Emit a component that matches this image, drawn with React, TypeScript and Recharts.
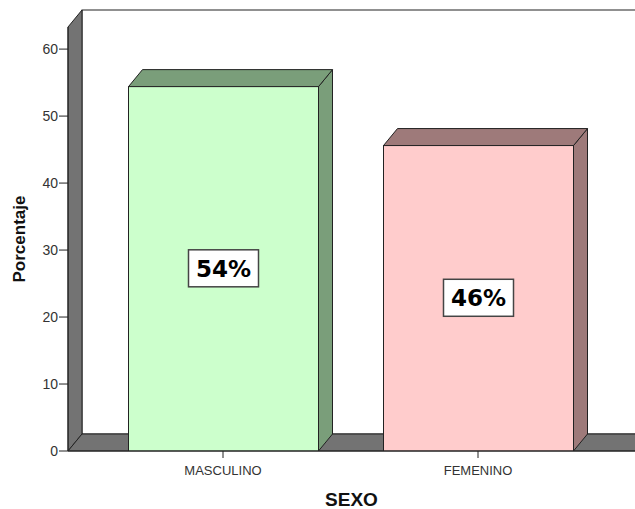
import { BarChart, Bar, XAxis, YAxis, Cell, LabelList, ReferenceArea } from "recharts";

const categories = ["MASCULINO", "FEMENINO"];
const percentages = [54.4, 45.6];
const percentLabels = ["54%", "46%"];
const yTicks = [0, 10, 20, 30, 40, 50, 60];
const Y_MAX = 63.3;

const frontColors = ["#ccffcc", "#ffcccc"];
const sideColors = ["#7a9e7a", "#9e7a7a"];

const DX = 14;
const DY = 17;
const EDGE = "#222222";
const WALL = "#737373";

const data = categories.map((name, i) => ({
  name,
  value: percentages[i],
  label: percentLabels[i],
  side: sideColors[i],
}));

function Box3D(props: any) {
  const { x, y, width: w, height: h, fill, payload } = props;
  const side = payload?.side ?? "#888";
  return (
    <g>
      <polygon
        points={`${x + w},${y} ${x + w + DX},${y - DY} ${x + w + DX},${y + h - DY} ${x + w},${y + h}`}
        fill={side}
        stroke={EDGE}
        strokeWidth={1}
      />
      <polygon
        points={`${x},${y} ${x + DX},${y - DY} ${x + w + DX},${y - DY} ${x + w},${y}`}
        fill={side}
        stroke={EDGE}
        strokeWidth={1}
      />
      <rect x={x} y={y} width={w} height={h} fill={fill} stroke={EDGE} strokeWidth={1} />
    </g>
  );
}

function Walls(props: any) {
  const { x, y, width, height } = props;
  const x0 = x;
  const x1 = x + width;
  const yTop = y;
  const yBot = y + height;
  return (
    <g>
      <rect x={x0 + DX} y={yTop - DY} width={width + 20} height={height} fill="#ffffff" stroke={EDGE} strokeWidth={1} />
      <polygon
        points={`${x0},${yTop} ${x0 + DX},${yTop - DY} ${x0 + DX},${yBot - DY} ${x0},${yBot}`}
        fill={WALL}
        stroke={EDGE}
        strokeWidth={1}
      />
      <polygon
        points={`${x0},${yBot} ${x0 + DX},${yBot - DY} ${x1 + DX},${yBot - DY} ${x1},${yBot}`}
        fill={WALL}
        stroke={EDGE}
        strokeWidth={1}
      />
    </g>
  );
}

function PercentBox(props: any) {
  const { x, y, width, height, value } = props;
  const cx = x + width / 2;
  const cy = y + height / 2;
  return (
    <g>
      <rect x={cx - 35} y={cy - 19} width={70} height={37} fill="#ffffff" stroke="#444444" strokeWidth={1.5} />
      <text
        x={cx}
        y={cy + 8}
        textAnchor="middle"
        fontFamily="'DejaVu Sans', Verdana, sans-serif"
        fontWeight="bold"
        fontSize={23}
        fill="#000000"
      >
        {value}
      </text>
    </g>
  );
}

function YTitle(props: any) {
  const { viewBox } = props;
  const cx = viewBox.x + 19;
  const cy = viewBox.y + viewBox.height / 2;
  return (
    <text
      x={cx}
      y={cy}
      transform={`rotate(-90, ${cx}, ${cy})`}
      textAnchor="middle"
      dominantBaseline="central"
      fontFamily="'Liberation Sans', Arial, sans-serif"
      fontWeight="bold"
      fontSize={17}
      fill="#111111"
    >
      Porcentaje
    </text>
  );
}

function XTitle(props: any) {
  const { viewBox } = props;
  return (
    <text
      x={viewBox.x + viewBox.width / 2}
      y={506}
      textAnchor="middle"
      fontFamily="'Liberation Sans', Arial, sans-serif"
      fontWeight="bold"
      fontSize={19}
      fill="#111111"
    >
      SEXO
    </text>
  );
}

const tickStyle = { fontSize: 13, fill: "#333333", fontFamily: "'Liberation Sans', Arial, sans-serif" };
const yTickStyle = { ...tickStyle, fontSize: 14 };

export default function App() {
  return (
    <div style={{ position: "absolute", left: 0, top: 0, background: "#ffffff" }}>
      <BarChart
        width={635}
        height={509}
        data={data}
        margin={{ top: 27, right: 0, bottom: 0, left: 0 }}
        barSize={190}
      >
        <XAxis
          dataKey="name"
          height={58}
          padding={{ left: 27.5, right: 29.5 }}
          tick={tickStyle}
          tickSize={7}
          tickMargin={8}
          axisLine={{ stroke: EDGE }}
          tickLine={{ stroke: EDGE }}
          label={<XTitle />}
        />
        <XAxis xAxisId="wall" type="number" domain={[0, 1]} hide />
        <YAxis
          width={68}
          domain={[0, Y_MAX]}
          ticks={yTicks}
          allowDataOverflow
          tick={yTickStyle}
          tickSize={9}
          tickMargin={1}
          axisLine={{ stroke: EDGE }}
          tickLine={{ stroke: EDGE }}
          label={<YTitle />}
        />
        <ReferenceArea
          xAxisId="wall"
          x1={0}
          x2={1}
          y1={0}
          y2={Y_MAX}
          ifOverflow="visible"
          shape={<Walls />}
        />
        <Bar dataKey="value" shape={<Box3D />} isAnimationActive={false}>
          {data.map((d, i) => (
            <Cell key={d.name} fill={frontColors[i]} />
          ))}
          <LabelList dataKey="label" content={<PercentBox />} />
        </Bar>
      </BarChart>
    </div>
  );
}
